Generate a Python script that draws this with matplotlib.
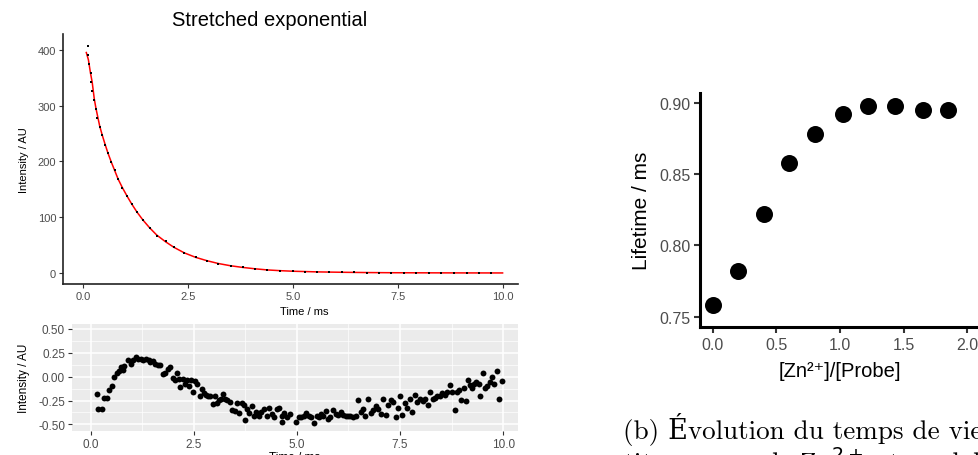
import matplotlib.pyplot as plt

# --- data ---
# decay (top left)
decay_t = [0.10, 0.12, 0.14, 0.17, 0.19, 0.21, 0.26, 0.30, 0.33, 0.39, 0.45, 0.52, 0.59, 0.67,
           0.75, 0.83, 0.93, 1.04, 1.15, 1.28, 1.42, 1.58, 1.75, 1.96, 2.16, 2.41, 2.68, 2.95,
           3.22, 3.51, 3.80, 4.10, 4.39, 4.69, 4.99, 5.28, 5.58, 5.87, 6.17, 6.46, 6.77, 7.06,
           7.35, 7.65, 7.94, 8.25, 8.54, 8.84, 9.14, 9.43, 9.73]
decay_i = [406, 390, 374, 358, 342, 326, 310, 294, 278, 262, 247, 230, 215, 199,
           184, 168, 153, 138, 124, 109, 95, 81, 67, 57, 46, 36, 28, 21,
           17, 13, 10, 7, 5, 4, 3, 2.5, 2, 1.5, 1.2, 1.0, 0.8, 0.6,
           0.5, 0.4, 0.3, 0.3, 0.2, 0.2, 0.1, 0.1, 0.1]

# fitted stretched exponential (red line)
fit_t = [0.07, 0.12, 0.17, 0.21, 0.26, 0.30, 0.39, 0.45, 0.52, 0.59, 0.67, 0.75, 0.83, 0.93,
         1.04, 1.15, 1.28, 1.42, 1.58, 1.75, 1.96, 2.16, 2.41, 2.68, 2.95, 3.22, 3.51, 3.80,
         4.10, 4.39, 4.69, 4.99, 5.58, 6.17, 6.77, 7.35, 7.94, 8.54, 9.14, 10.0]
fit_i = [395, 382, 358, 342, 312, 295, 263, 247, 230, 214, 198, 183, 168, 153,
         138, 124, 109, 95, 81, 68, 56, 46, 36, 28, 22, 17, 13, 10,
         7.5, 5.5, 4.2, 3.2, 2.0, 1.3, 0.8, 0.5, 0.35, 0.25, 0.15, 0.1]

# residuals (bottom left)
res_t = [0.15, 0.19, 0.27, 0.33, 0.40, 0.45, 0.53, 0.57, 0.63, 0.69, 0.73, 0.78, 0.82, 0.91,
         0.97, 1.03, 1.10, 1.16, 1.22, 1.28, 1.34, 1.41, 1.45, 1.52, 1.57, 1.63, 1.69, 1.75,
         1.81, 1.87, 1.93, 1.99, 2.04, 2.09, 2.14, 2.18, 2.23, 2.29, 2.34, 2.39, 2.43, 2.49,
         2.54, 2.58, 2.65, 2.70, 2.75, 2.79, 2.85, 2.90, 2.96, 3.01, 3.06, 3.11, 3.17, 3.21,
         3.26, 3.31, 3.38, 3.43, 3.50, 3.55, 3.61, 3.66, 3.71, 3.74, 3.80, 3.84, 3.92, 3.97,
         4.02, 4.08, 4.14, 4.20, 4.27, 4.32, 4.39, 4.44, 4.51, 4.57, 4.63, 4.65, 4.69, 4.75,
         4.83, 4.99, 5.05, 5.11, 5.17, 5.23, 5.30, 5.35, 5.41, 5.48, 5.53, 5.58, 5.64, 5.70,
         5.76, 5.81, 5.88, 5.94, 6.00, 6.06, 6.12, 6.19, 6.24, 6.30, 6.37, 6.43, 6.49, 6.55,
         6.61, 6.66, 6.73, 6.79, 6.85, 6.91, 6.97, 7.03, 7.09, 7.16, 7.21, 7.28, 7.33, 7.40,
         7.46, 7.50, 7.56, 7.62, 7.67, 7.74, 7.80, 7.86, 7.92, 7.98, 8.05, 8.10, 8.17, 8.22,
         8.29, 8.35, 8.40, 8.47, 8.53, 8.59, 8.64, 8.71, 8.76, 8.83, 8.87, 8.93, 8.99, 9.05,
         9.10, 9.14, 9.19, 9.25, 9.30, 9.35, 9.41, 9.45, 9.52, 9.57, 9.62, 9.68, 9.73, 9.79,
         9.85, 9.90, 9.98]
res_v = [-0.18, -0.34, -0.34, -0.22, -0.22, -0.14, -0.10, 0.00, 0.04, 0.06, 0.10, 0.07, 0.11, 0.17,
         0.13, 0.17, 0.21, 0.18, 0.19, 0.17, 0.19, 0.17, 0.15, 0.16, 0.13, 0.12, 0.12, 0.03,
         0.04, 0.08, 0.10, -0.01, -0.03, 0.04, -0.02, -0.11, -0.02, -0.08, -0.04, -0.10, -0.03, -0.16,
         -0.05, -0.08, -0.20, -0.13, -0.17, -0.19, -0.20, -0.20, -0.29, -0.20, -0.28, -0.24, -0.23, -0.18,
         -0.23, -0.24, -0.27, -0.35, -0.36, -0.28, -0.38, -0.28, -0.30, -0.45, -0.34, -0.38, -0.31, -0.41,
         -0.37, -0.41, -0.37, -0.34, -0.41, -0.33, -0.39, -0.42, -0.34, -0.33, -0.41, -0.48, -0.38, -0.42,
         -0.39, -0.48, -0.42, -0.42, -0.41, -0.38, -0.41, -0.42, -0.49, -0.41, -0.42, -0.39, -0.41, -0.36,
         -0.44, -0.42, -0.35, -0.39, -0.40, -0.37, -0.40, -0.41, -0.41, -0.41, -0.42, -0.41, -0.24, -0.37,
         -0.34, -0.41, -0.23, -0.38, -0.35, -0.31, -0.34, -0.39, -0.23, -0.40, -0.30, -0.24, -0.27, -0.42,
         -0.33, -0.20, -0.40, -0.28, -0.33, -0.23, -0.37, -0.19, -0.27, -0.23, -0.25, -0.23, -0.30, -0.16,
         -0.23, -0.22, -0.20, -0.20, -0.17, -0.19, -0.16, -0.09, -0.16, -0.35, -0.16, -0.14, -0.24, -0.12,
         -0.26, -0.03, -0.09, -0.12, -0.08, -0.06, -0.08, -0.20, 0.04, -0.12, -0.10, -0.06, 0.00, -0.08,
         0.06, -0.23, -0.05]

# lifetime titration (right)
zn_ratio = [0.0, 0.2, 0.4, 0.6, 0.8, 1.02, 1.22, 1.43, 1.65, 1.85]
lifetime = [0.758, 0.782, 0.822, 0.858, 0.878, 0.8925, 0.898, 0.898, 0.895, 0.895]

plt.rcParams['font.family'] = ['Liberation Sans', 'DejaVu Sans']
tick_grey = '#4D4D4D'

fig = plt.figure(figsize=(9.79, 4.56), dpi=100)

# --- top left: decay + fit ---
ax1 = fig.add_axes([0.0644, 0.375, 0.4648, 0.548])
ax1.plot(fit_t, fit_i, color='red', lw=1.1, zorder=2)
ax1.scatter(decay_t, decay_i, marker='s', s=3, color='black', zorder=3, linewidths=0)
ax1.set_xlim(-0.485, 10.37)
ax1.set_ylim(-19.7, 428)
ax1.set_xticks([0, 2.5, 5, 7.5, 10])
ax1.set_xticklabels(['0.0', '2.5', '5.0', '7.5', '10.0'])
ax1.set_yticks([0, 100, 200, 300, 400])
for s in ['top', 'right']:
    ax1.spines[s].set_visible(False)
for s in ['left', 'bottom']:
    ax1.spines[s].set_linewidth(1.2)
    ax1.spines[s].set_color('#222222')
ax1.tick_params(labelsize=8, labelcolor=tick_grey, color='#333333', length=3, width=0.8, pad=2)
ax1.set_xlabel('Time / ms', fontsize=8)
ax1.xaxis.set_label_coords(0.53, -0.088)
ax1.set_ylabel('Intensity / AU', fontsize=8)
ax1.yaxis.set_label_coords(-0.075, 0.5)
fig.text(0.2753, 0.956, 'Stretched exponential', fontsize=14.5, ha='center', va='center')

# --- bottom left: residuals ---
ax2 = fig.add_axes([0.0735, 0.0533, 0.4556, 0.234])
ax2.set_facecolor('#EBEBEB')
ax2.scatter(res_t, res_v, s=18, color='black', linewidths=0, zorder=3)
ax2.set_xlim(-0.45, 10.36)
ax2.set_ylim(-0.566, 0.552)
ax2.set_xticks([0, 2.5, 5, 7.5, 10])
ax2.set_xticklabels(['0.0', '2.5', '5.0', '7.5', '10.0'])
ax2.set_yticks([-0.5, -0.25, 0, 0.25, 0.5])
ax2.set_yticklabels(['-0.50', '-0.25', '0.00', '0.25', '0.50'])
ax2.set_xticks([1.25, 3.75, 6.25, 8.75], minor=True)
ax2.set_yticks([-0.375, -0.125, 0.125, 0.375], minor=True)
ax2.grid(True, which='major', color='white', lw=1.1)
ax2.grid(True, which='minor', color='white', lw=0.5)
ax2.set_axisbelow(True)
for s in ax2.spines.values():
    s.set_visible(False)
ax2.tick_params(which='major', labelsize=8.5, labelcolor=tick_grey, color='#333333', length=3, width=0.8, pad=2)
ax2.tick_params(which='minor', length=0)
ax2.set_xlabel('Time / ms', fontsize=8.5, labelpad=1)
ax2.set_ylabel('Intensity / AU', fontsize=8.5)
ax2.yaxis.set_label_coords(-0.094, 0.5)

# --- right: lifetime vs ratio (runs into the right edge) ---
ax3 = fig.add_axes([0.715, 0.2807, 0.286, 0.5132])
ax3.scatter(zn_ratio, lifetime, s=150, color='black', linewidths=0, zorder=3, clip_on=False)
ax3.set_xlim(-0.1, 2.1)
ax3.set_ylim(0.7428, 0.907)
ax3.set_xticks([0, 0.5, 1.0, 1.5, 2.0])
ax3.set_xticklabels(['0.0', '0.5', '1.0', '1.5', '2.0'])
ax3.set_yticks([0.75, 0.80, 0.85, 0.90])
ax3.set_yticklabels(['0.75', '0.80', '0.85', '0.90'])
for s in ['top', 'right']:
    ax3.spines[s].set_visible(False)
for s in ['left', 'bottom']:
    ax3.spines[s].set_linewidth(2.2)
    ax3.spines[s].set_color('black')
ax3.tick_params(labelsize=11.5, labelcolor=tick_grey, color='#333333', length=4, width=1.5, pad=3)
ax3.set_xlabel('[Zn²⁺]/[Probe]', fontsize=14.5, labelpad=7)
ax3.set_ylabel('Lifetime / ms', fontsize=15, labelpad=6)

# caption under the right panel (cut by the page edge)
cap_font = ['cmr10', 'DejaVu Serif']
fig.text(0.6364, 0.037, '(b) Évolution du temps de vie', fontsize=19.5, family=cap_font,
         ha='left', va='baseline')
fig.text(0.6364, -0.034, 'titrage avec le Zn$^{2+}$ et modélisation', fontsize=19.5, family=cap_font,
         ha='left', va='baseline')

plt.savefig('out.png', dpi=100)
